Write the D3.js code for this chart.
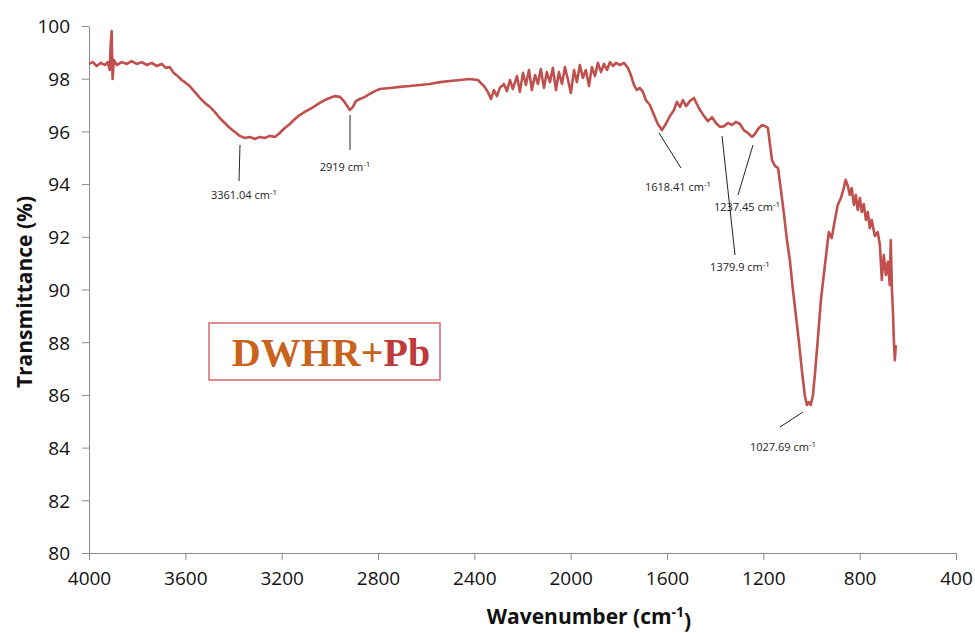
<!DOCTYPE html>
<html>
<head>
<meta charset="utf-8">
<script src="https://cdn.jsdelivr.net/npm/d3@7"></script>
<style>
  body { margin: 0; background: #fff; }
  svg text { font-family: "Open Sans", "Noto Sans", sans-serif; }
</style>
</head>
<body>
<div id="chart"></div>
<script>
// spectrum (wavenumber in cm-1, transmittance in %)
let wavenumber = [4000,3984,3968,3951,3934,3922,3914,3910,3906,3902,3897,3885,3864,3843,3823,3802,3781,3760,3739,3719,
  3698,3681,3665,3648,3632,3615,3598,3582,3561,3540,3519,3498,3478,3457,3436,3415,3394,3374,3353,3332,
  3311,3291,3270,3249,3228,3208,3187,3166,3145,3125,3104,3083,3062,3042,3021,3000,2979,2958,2942,2925,
  2917,2904,2892,2875,2854,2834,2813,2792,2750,2709,2668,2626,2585,2543,2501,2460,2419,2385,2360,2344,
  2331,2319,2306,2294,2277,2265,2252,2240,2223,2211,2198,2186,2173,2161,2148,2136,2124,2111,2099,2086,
  2074,2061,2049,2036,2024,2011,1999,1986,1974,1962,1949,1937,1924,1912,1899,1887,1874,1862,1849,1837,
  1824,1812,1795,1779,1762,1750,1737,1725,1713,1700,1688,1671,1654,1638,1621,1605,1588,1571,1559,1546,
  1534,1521,1505,1488,1476,1463,1446,1430,1413,1397,1380,1363,1347,1330,1314,1297,1281,1264,1247,1235,
  1222,1206,1193,1181,1172,1164,1152,1139,1127,1114,1102,1090,1077,1065,1053,1040,1028,1019,1011,1003,
  994,986,974,961,949,936,928,916,903,891,878,866,858,849,841,833,824,816,808,799,
  791,783,774,766,758,750,737,725,716,708,700,691,683,675,671,666,662,658,654,650];
let transmittance = [98.56,98.63,98.48,98.6,98.52,98.63,98.33,99.28,99.81,97.99,98.71,98.52,98.63,98.56,98.67,98.56,98.63,98.52,98.6,98.48,
  98.56,98.41,98.44,98.22,98.1,97.95,97.84,97.72,97.5,97.27,97.08,96.93,96.74,96.51,96.32,96.13,95.98,95.83,95.75,95.79,
  95.71,95.79,95.75,95.83,95.79,95.94,96.13,96.28,96.47,96.62,96.74,96.85,96.96,97.08,97.19,97.27,97.34,97.31,97.15,96.93,
  96.81,96.93,97.15,97.23,97.31,97.42,97.53,97.61,97.65,97.69,97.72,97.76,97.8,97.87,97.91,97.95,97.99,97.95,97.72,97.5,
  97.23,97.57,97.34,97.65,97.8,97.53,97.95,97.61,98.1,97.5,98.22,97.76,98.33,97.57,98.14,97.8,98.37,97.65,98.25,97.87,
  98.41,97.57,98.25,97.8,98.44,97.95,97.46,98.33,97.87,98.52,98.03,98.33,97.72,98.44,98.1,98.6,98.25,98.56,98.33,98.63,
  98.48,98.6,98.52,98.6,98.41,98.14,97.76,97.57,97.65,97.5,97.19,97.0,96.62,96.28,96.05,96.28,96.58,96.81,97.12,96.93,
  97.19,96.96,97.15,97.27,97.04,96.81,96.58,96.39,96.54,96.32,96.17,96.2,96.32,96.24,96.36,96.28,96.05,95.94,95.79,95.9,
  96.09,96.24,96.2,96.13,95.48,94.91,94.69,94.61,93.78,92.83,91.88,91.12,89.98,89.03,88.08,86.94,85.99,85.62,85.73,85.62,
  85.99,86.76,88.08,89.6,90.55,91.57,92.18,91.95,92.64,93.21,93.47,93.85,94.16,93.93,93.59,93.85,93.21,93.59,93.02,93.47,
  92.94,93.24,92.64,92.94,92.33,92.64,92.03,92.18,91.69,90.36,91.31,90.55,91.05,90.17,91.88,89.98,89.22,88.08,87.32,87.89];

let xTicks = [4000,3600,3200,2800,2400,2000,1600,1200,800,400];
let yTicks = [80,82,84,86,88,90,92,94,96,98,100];

let peakLabels = ["3361.04", "2919", "1618.41", "1237.45", "1379.9", "1027.69"];

let svgWidth = 975;
let svgHeight = 633;
let margin = {top: 26, right: 19, bottom: 80, left: 89};
let chartWidth = svgWidth - margin.left - margin.right;
let chartHeight = svgHeight - margin.top - margin.bottom;

let svg = d3.select("#chart")
  .append("svg")
  .attr("width", svgWidth)
  .attr("height", svgHeight);

let chartGroup = svg.append("g")
  .attr("transform", `translate(${margin.left}, ${margin.top})`);

let x = d3.scaleLinear().domain([4000, 400]).range([0, chartWidth]);
let y = d3.scaleLinear().domain([80, 100]).range([chartHeight, 0]);

//axes
let bottomAxis = d3.axisBottom(x).tickValues(xTicks).tickFormat(d3.format("d"))
  .tickSize(7).tickSizeOuter(0).tickPadding(12);
let leftAxis = d3.axisLeft(y).tickValues(yTicks).tickFormat(d3.format("d"))
  .tickSize(7).tickSizeOuter(0).tickPadding(12);

let xAxis = chartGroup.append("g")
  .attr("transform", `translate(0, ${chartHeight})`)
  .call(bottomAxis);
let yAxis = chartGroup.append("g").call(leftAxis);

[xAxis, yAxis].forEach(a => {
  a.selectAll("path, line").attr("stroke", "#8c8c8c").attr("stroke-width", 1);
  a.selectAll("text").attr("fill", "#111").style("font-size", "19px");
});
yAxis.selectAll("text").attr("dy", "0.36em");

//spectrum line
let points = wavenumber.map((w, i) => [w, transmittance[i]]);
let line = d3.line().x(d => x(d[0])).y(d => y(d[1]));

chartGroup.append("path")
  .datum(points)
  .attr("fill", "none")
  .attr("stroke", "#c0504d")
  .attr("stroke-width", 2.6)
  .attr("stroke-linejoin", "round")
  .attr("d", line);

//peak annotations (pixel layout)
let annoLayout = [
  {x1: 240, y1: 145, x2: 239, y2: 181, tx: 244, ty: 199},
  {x1: 350, y1: 115, x2: 350, y2: 150, tx: 345, ty: 171},
  {x1: 659, y1: 133, x2: 681, y2: 168, tx: 678, ty: 191},
  {x1: 753, y1: 145, x2: 738, y2: 195, tx: 747, ty: 211},
  {x1: 722, y1: 136, x2: 735, y2: 255, tx: 740, ty: 271},
  {x1: 803, y1: 412, x2: 780, y2: 427, tx: 783, ty: 451}
];

let anno = svg.append("g");
annoLayout.forEach((a, i) => {
  anno.append("line")
    .attr("x1", a.x1).attr("y1", a.y1)
    .attr("x2", a.x2).attr("y2", a.y2)
    .attr("stroke", "#222").attr("stroke-width", 1);
  let t = anno.append("text")
    .attr("x", a.tx).attr("y", a.ty)
    .attr("text-anchor", "middle")
    .attr("fill", "#222")
    .style("font-size", "11px")
    .text(peakLabels[i] + " cm");
  t.append("tspan")
    .attr("dy", "-0.45em")
    .style("font-size", "8px")
    .text("-1");
});

//sample label box
svg.append("rect")
  .attr("x", 209).attr("y", 323)
  .attr("width", 231).attr("height", 57)
  .attr("fill", "#fff")
  .attr("stroke", "#d36a6a")
  .attr("stroke-width", 1.5);

let sample = svg.append("text")
  .attr("x", 331).attr("y", 366)
  .attr("text-anchor", "middle")
  .style("font-family", "'Liberation Serif', 'DejaVu Serif', serif")
  .style("font-weight", "bold")
  .style("font-size", "40px");
sample.append("tspan").attr("fill", "#c9621c").text("DWHR+");
sample.append("tspan").attr("fill", "#c0393b").text("Pb");

//axis titles
let xTitle = svg.append("text")
  .attr("x", 589).attr("y", 624)
  .attr("text-anchor", "middle")
  .attr("fill", "#111")
  .style("font-weight", "bold")
  .style("font-size", "21px")
  .text("Wavenumber (cm");
xTitle.append("tspan").attr("dy", "-0.5em").style("font-size", "14px").text("-1");
xTitle.append("tspan").attr("dy", "0.5em").text(")");

svg.append("text")
  .attr("transform", "translate(32, 292) rotate(-90)")
  .attr("text-anchor", "middle")
  .attr("fill", "#111")
  .style("font-weight", "bold")
  .style("font-size", "21px")
  .text("Transmittance (%)");
</script>
</body>
</html>
